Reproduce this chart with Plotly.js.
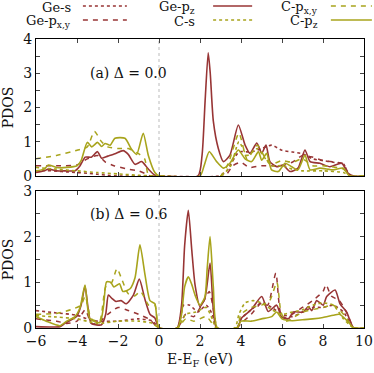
<!DOCTYPE html>
<html>
<head>
<meta charset="utf-8">
<script src="https://cdn.plot.ly/plotly-3.0.1.min.js"></script>
</head>
<body style="margin:0">
<div id="myDiv" style="width:374px;height:373px"></div>
<script>
// ---- panel (a), Delta = 0.0 ----
var aGeS_x = [-6, -5.5, -5, -4.5, -4, -3.5, -3, -2.5, -2, 0, 2.9, 3.3, 3.9, 4.5, 5.0, 5.5, 6.0, 6.5, 7.0, 7.5, 8.0, 8.5, 9.0, 9.3, 10];
var aGeS_y = [0.15, 0.16, 0.14, 0.12, 0.1, 0.08, 0.05, 0.02, 0, 0, 0, 0.15, 0.7, 0.7, 0.8, 0.9, 0.75, 0.7, 0.65, 0.5, 0.45, 0.4, 0.35, 0, 0];

var aGePxy_x = [-6, -5, -4, -3.5, -3, -2.6, -2.2, -1.5, -1, -0.6, -0.4, 0, 3.2, 3.6, 4.0, 4.4, 5.0, 6.0, 6.5, 7.0, 7.5, 8.0, 9.0, 9.3, 10];
var aGePxy_y = [0.3, 0.3, 0.32, 0.5, 0.6, 0.4, 0.3, 0.2, 0.15, 0.05, 0, 0, 0, 0.3, 0.4, 0.25, 0.3, 0.3, 0.4, 0.6, 0.55, 0.45, 0.35, 0, 0];

var aGePz_x = [-6, -5.6, -5.4, -5, -4.5, -4.1, -3.85, -3.6, -3.3, -3.0, -2.8, -2.5, -2.15, -1.75, -1.5, -1.17, -0.84, -0.52, -0.2, 0, 1.9, 2.1, 2.25, 2.4, 2.5, 2.65, 2.89, 3.14, 3.46, 3.87, 4.2, 4.44, 4.77, 5.01, 5.22, 5.41, 5.74, 6.05, 6.39, 6.78, 7.12, 7.37, 7.85, 8.34, 8.91, 9.23, 9.5, 10];
var aGePz_y = [0.1, 0.15, 0.2, 0.15, 0.15, 0.15, 0.3, 0.55, 0.55, 0.71, 0.52, 0.58, 0.65, 0.74, 0.63, 0.34, 0.42, 0.2, 0.02, 0, 0, 0.6, 2.2, 3.6, 3.0, 1.6, 0.81, 0.42, 0.61, 1.49, 0.9, 0.66, 0.96, 0.66, 0.9, 0.42, 0.27, 0.32, 0.13, 0.23, 0.76, 0.42, 0.37, 0.27, 0.37, 0.08, 0, 0];

var aCS_x = [-6, -5, -4, -3, -2, -1, 0, 3.0, 3.5, 3.9, 4.3, 4.8, 5.2, 5.5, 6.0, 6.5, 7.0, 8.0, 9.0, 9.3, 10];
var aCS_y = [0.25, 0.2, 0.15, 0.1, 0.06, 0.02, 0, 0, 0.3, 1.0, 0.6, 0.8, 0.5, 0.3, 0.3, 0.2, 0.15, 0.15, 0.1, 0, 0];

var aCPxy_x = [-6, -5, -4, -3.5, -3.15, -2.8, -2.5, -2, -1.5, -1, -0.7, -0.5, 0, 3.0, 3.4, 3.9, 4.3, 4.8, 5.2, 5.5, 6.0, 6.5, 7.0, 7.5, 8.0, 9.0, 9.3, 10];
var aCPxy_y = [0.5, 0.6, 0.75, 0.85, 1.3, 1.0, 0.85, 0.8, 0.8, 0.65, 0.5, 0, 0, 0, 0.4, 1.25, 0.5, 0.9, 0.5, 0.35, 0.45, 0.4, 0.5, 0.3, 0.3, 0.2, 0, 0];

var aCPz_x = [-6, -5.6, -5.4, -5, -4.5, -4.0, -3.8, -3.5, -3.28, -3.0, -2.8, -2.63, -2.38, -2.15, -1.66, -1.33, -1.09, -0.77, -0.52, -0.2, 0, 2.0, 2.2, 2.45, 2.81, 3.14, 3.46, 3.87, 4.2, 4.52, 4.85, 5.01, 5.25, 5.49, 5.82, 6.15, 6.47, 6.78, 7.12, 7.37, 7.85, 8.5, 8.98, 9.3, 10];
var aCPz_y = [0.15, 0.2, 0.32, 0.25, 0.25, 0.3, 0.45, 0.98, 0.85, 0.98, 0.86, 0.95, 0.9, 1.1, 1.1, 0.77, 0.63, 1.25, 0.6, 0.1, 0, 0, 0.3, 0.71, 0.42, 0.23, 0.37, 0.76, 0.5, 0.42, 0.71, 0.46, 0.66, 0.18, 0.13, 0.37, 0.27, 0.18, 0.61, 0.18, 0.23, 0.18, 0.23, 0, 0];

// ---- panel (b), Delta = 0.6 ----
var bGeS_x = [-6, -5, -4, -3.5, -3, -2, -1, -0.3, 0, 0.9, 1.2, 1.5, 1.9, 2.3, 2.6, 2.8, 3.8, 4.0, 4.5, 5.0, 5.5, 6.0, 6.5, 7.0, 7.5, 8.0, 8.5, 9.0, 9.5, 10];
var bGeS_y = [0.38, 0.33, 0.28, 0.2, 0.15, 0.15, 0.2, 0.15, 0, 0, 0.5, 0.5, 0.35, 0.5, 0.3, 0, 0, 0.2, 0.4, 0.55, 0.45, 0.3, 0.25, 0.35, 0.45, 0.45, 0.5, 0.35, 0, 0];

var bGePxy_x = [-6, -5, -4.5, -4, -3.6, -3.3, -3, -2.5, -2, -1.6, -1, -0.5, 0, 0.9, 1.3, 1.7, 2.2, 2.45, 2.7, 2.85, 3.8, 4.0, 4.5, 5.0, 5.3, 5.7, 5.95, 6.3, 6.5, 7.0, 7.5, 8.0, 8.15, 8.4, 8.8, 9.2, 9.5, 10];
var bGePxy_y = [0.2, 0.15, 0.1, 0.15, 0.4, 0.1, 0.1, 0.3, 0.45, 0.4, 0.3, 0.2, 0, 0, 0.3, 0.25, 0.6, 0.8, 0.3, 0, 0, 0.1, 0.3, 0.55, 0.5, 1.2, 0.3, 0.2, 0.3, 0.45, 0.6, 0.8, 0.95, 0.7, 0.6, 0.3, 0, 0];

var bGePz_x = [-6, -4.83, -4.6, -4.02, -3.8, -3.61, -3.45, -3.3, -2.8, -2.6, -2.47, -2.3, -2.1, -1.85, -1.6, -1.25, -0.96, -0.68, -0.44, -0.2, 0, 0.88, 1.1, 1.25, 1.43, 1.6, 1.76, 2.0, 2.24, 2.49, 2.65, 2.81, 3.8, 4.03, 4.52, 5.01, 5.33, 5.74, 5.98, 6.31, 6.55, 7.04, 7.28, 7.45, 7.69, 8.01, 8.18, 8.59, 8.83, 9.15, 9.5, 10];
var bGePz_y = [0.03, 0.03, 0.1, 0.25, 0.5, 0.92, 0.4, 0.1, 0.07, 0.3, 0.72, 0.65, 0.58, 0.6, 0.53, 0.72, 1.07, 0.62, 0.3, 0.22, 0, 0, 0.5, 1.8, 2.58, 1.7, 0.94, 0.47, 0.65, 1.42, 0.4, 0, 0, 0.22, 0.41, 0.69, 0.36, 0.5, 0.24, 0.2, 0.35, 0.35, 0.47, 0.38, 0.6, 0.5, 0.69, 0.83, 0.53, 0.35, 0, 0];

var bCS_x = [-6, -5, -4, -3, -2, -1, -0.3, 0, 0.9, 1.3, 1.8, 2.3, 2.6, 2.8, 3.7, 3.9, 4.2, 4.6, 5.0, 5.5, 6.0, 6.5, 7.0, 7.5, 8.0, 8.5, 9.0, 9.5, 10];
var bCS_y = [0.27, 0.24, 0.2, 0.1, 0.15, 0.15, 0.1, 0, 0, 0.3, 0.35, 0.45, 0.2, 0, 0, 0.3, 0.55, 0.6, 0.55, 0.4, 0.3, 0.35, 0.4, 0.5, 0.55, 0.5, 0.2, 0, 0];

var bCPxy_x = [-6, -5, -4.3, -3.8, -3.6, -3.3, -2.9, -2.6, -2.3, -2.05, -1.8, -1.5, -1.2, -0.9, -0.5, -0.2, 0, 0.9, 1.3, 1.7, 2.3, 2.6, 2.8, 3.8, 4.0, 4.5, 5.0, 5.4, 5.75, 5.95, 6.2, 7.0, 8.0, 8.5, 9.0, 9.5, 10];
var bCPxy_y = [0.3, 0.32, 0.4, 0.5, 0.7, 0.2, 0.15, 0.9, 1.0, 1.3, 1.05, 0.75, 0.7, 0.8, 0.5, 0.5, 0, 0, 0.2, 0.15, 0.25, 0.1, 0, 0, 0.3, 0.45, 0.5, 0.6, 1.0, 0.35, 0.15, 0.35, 0.45, 0.5, 0.3, 0, 0];

var bCPz_x = [-6, -5.5, -4.83, -4.5, -4.1, -3.85, -3.61, -3.37, -2.88, -2.7, -2.56, -2.35, -2.2, -1.93, -1.76, -1.41, -1.17, -0.93, -0.68, -0.44, -0.2, 0, 0.9, 1.1, 1.25, 1.43, 1.6, 1.76, 2.0, 2.24, 2.35, 2.49, 2.65, 2.85, 3.8, 4.0, 4.5, 5.0, 5.5, 5.74, 6.0, 6.5, 7.0, 7.5, 8.0, 8.5, 8.8, 9.2, 9.5, 10];
var bCPz_y = [0.25, 0.15, 0.05, 0.15, 0.25, 0.45, 0.94, 0.2, 0.12, 0.5, 1.01, 1.0, 0.9, 0.97, 0.8, 0.86, 1.1, 1.82, 1.16, 0.6, 0.53, 0, 0, 0.3, 0.9, 1.12, 0.95, 0.72, 0.5, 0.68, 1.3, 2.0, 0.9, 0, 0, 0.15, 0.15, 0.2, 0.25, 0.35, 0.2, 0.16, 0.18, 0.2, 0.23, 0.28, 0.3, 0.15, 0, 0];

var geColor = "#983535";
var cColor = "#a8a41c";
var serif = "DejaVu Serif";

function curve(x, y, color, dash, width, ax) {
  return {
    x: x, y: y, type: "scatter", mode: "lines",
    xaxis: ax[0], yaxis: ax[1],
    line: { color: color, dash: dash, width: width, shape: "spline", smoothing: 0.6 },
    hoverinfo: "skip"
  };
}

var top_ = ["x", "y"], bot = ["x2", "y2"];
var data = [
  curve(aGeS_x, aGeS_y, geColor, "dot", 1.6, top_),
  curve(aGePxy_x, aGePxy_y, geColor, "5px,5px", 1.5, top_),
  curve(aGePz_x, aGePz_y, geColor, "solid", 1.6, top_),
  curve(aCS_x, aCS_y, cColor, "dot", 1.6, top_),
  curve(aCPxy_x, aCPxy_y, cColor, "5px,5px", 1.5, top_),
  curve(aCPz_x, aCPz_y, cColor, "solid", 1.6, top_),
  curve(bGeS_x, bGeS_y, geColor, "dot", 1.6, bot),
  curve(bGePxy_x, bGePxy_y, geColor, "5px,5px", 1.5, bot),
  curve(bGePz_x, bGePz_y, geColor, "solid", 1.6, bot),
  curve(bCS_x, bCS_y, cColor, "dot", 1.6, bot),
  curve(bCPxy_x, bCPxy_y, cColor, "5px,5px", 1.5, bot),
  curve(bCPz_x, bCPz_y, cColor, "solid", 1.6, bot)
];

function ax(extra) {
  return Object.assign({
    showline: true, linecolor: "#000", linewidth: 1, mirror: "ticks",
    ticks: "inside", ticklen: 4, tickcolor: "#444", tickwidth: 1,
    showgrid: false, zeroline: false,
    tickfont: { family: serif, size: 14, color: "#111" }
  }, extra);
}

// legend drawn gnuplot-style: text right-aligned, sample line to its right
var legNames = ["Ge-s", "Ge-p<sub>z</sub>", "C-p<sub>x,y</sub>", "Ge-p<sub>x,y</sub>", "C-s", "C-p<sub>z</sub>"];
var legColors = [geColor, geColor, cColor, geColor, cColor, cColor];
var legDash = ["dot", "solid", "5px,5px", "5px,5px", "dot", "solid"];
var colText = [0.113, 0.491, 0.866];
var colLine = [[0.143, 0.277], [0.540, 0.659], [0.899, 1.024]];
var rowY = [1.108, 1.060];

var annotations = [
  { text: "(a) Δ = 0.0", xref: "x", yref: "y", x: -1.5, y: 3.0, showarrow: false, font: { family: serif, size: 14, color: "#111" } },
  { text: "(b) Δ = 0.6", xref: "x2", yref: "y2", x: -1.5, y: 2.5, showarrow: false, font: { family: serif, size: 14, color: "#111" } }
];
var shapes = [
  { type: "line", xref: "x", yref: "y domain", x0: 0, x1: 0, y0: 0, y1: 1, line: { color: "#bbb", width: 1, dash: "dot" }, layer: "below" },
  { type: "line", xref: "x2", yref: "y2 domain", x0: 0, x1: 0, y0: 0, y1: 1, line: { color: "#bbb", width: 1, dash: "dot" }, layer: "below" }
];
for (var i = 0; i < legNames.length; i++) {
  var c = i % 3, r = Math.floor(i / 3);
  annotations.push({
    text: legNames[i], xref: "paper", yref: "paper", x: colText[c], y: rowY[r],
    xanchor: "right", yanchor: "middle", showarrow: false,
    font: { family: serif, size: 13, color: "#111" }
  });
  shapes.push({
    type: "line", xref: "paper", yref: "paper",
    x0: colLine[c][0], x1: colLine[c][1], y0: rowY[r] + 0.006, y1: rowY[r] + 0.006,
    line: { color: legColors[i], width: 1.6, dash: legDash[i] }
  });
}

var layout = {
  width: 374, height: 373,
  margin: { l: 36, r: 10, t: 39, b: 45 },
  showlegend: false,
  xaxis: ax({ domain: [0, 1], anchor: "y", range: [-6, 10], dtick: 2, showticklabels: false }),
  yaxis: ax({ domain: [0.526, 1], anchor: "x", range: [0, 4], tickvals: [0, 1, 2, 3, 4],
    minor: { dtick: 0.5, ticks: "inside", ticklen: 4, tickcolor: "#444" },
    title: { text: "PDOS", font: { family: serif, size: 14, color: "#111" }, standoff: 6 } }),
  xaxis2: ax({ domain: [0, 1], anchor: "y2", range: [-6, 10], dtick: 2,
    title: { text: "E-E<sub>F</sub> (eV)", font: { family: serif, size: 14, color: "#111" }, standoff: 6 } }),
  yaxis2: ax({ domain: [0, 0.474], anchor: "x2", range: [0, 3], tickvals: [0, 1, 2, 3],
    minor: { dtick: 0.5, ticks: "inside", ticklen: 4, tickcolor: "#444" },
    title: { text: "PDOS", font: { family: serif, size: 14, color: "#111" }, standoff: 6 } }),
  annotations: annotations,
  shapes: shapes
};

Plotly.newPlot("myDiv", data, layout, { displayModeBar: false });
</script>
</body>
</html>
